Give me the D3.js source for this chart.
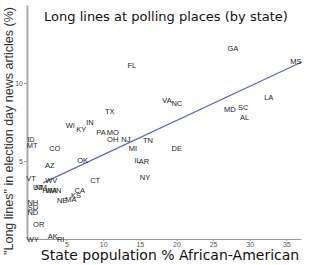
<!DOCTYPE html>
<html>
<head>
<meta charset="utf-8">
<script src="https://cdn.jsdelivr.net/npm/d3@7"></script>
<style>
body { margin: 0; background: #fff; }
svg { display: block; }
.state { font-family: "Liberation Sans", Arial, sans-serif; font-size: 7.5px; fill: #222; text-anchor: middle; }
.tick text { font-family: "Liberation Sans", Arial, sans-serif; font-size: 7px; fill: #555; }
</style>
</head>
<body>
<svg id="chart" width="310" height="265"></svg>
<script>
var states = ["GA","MS","FL","VA","NC","LA","MD","SC","AL","TX","WI","IN","KY","PA","MO","OH","NJ","MI","TN","DE",
	"ID","MT","CO","OK","AZ","IL","AR","NY","VT","WV","CT","UT","NM","HI","WA","MN","NE","MA","KS","CA",
	"NH","SD","ND","OR","WY","AK","RI"];
// % African-American
var pctBlack = [27.7,36.3,13.9,18.7,20.05,32.6,27.3,29.1,29.3,10.9,5.5,8.2,7.0,9.7,11.3,11.3,13.1,14.05,16.1,20.05,
	0.15,0.3,3.4,7.2,2.7,14.7,15.55,15.7,0.15,2.9,8.9,1.1,1.5,2.2,2.9,3.5,4.4,5.6,6.3,6.8,
	0.4,0.4,0.4,1.2,0.4,3.1,4.2];
// "long lines" share of election day articles (%)
var longLines = [12.2,11.4,11.1,8.85,8.7,9.1,8.27,8.4,7.8,8.2,7.3,7.5,7.0,6.8,6.8,6.35,6.35,5.83,6.3,5.77,
	6.35,6.0,5.83,5.06,4.68,5.06,4.94,3.97,3.85,3.72,3.72,3.33,3.27,3.08,3.08,3.08,2.44,2.56,2.82,3.08,
	2.31,1.99,1.73,0.9,0.0,0.19,0.0];
var fitX = [1.8, 37.1];
var fitY = [3.6, 11.35];
var xTicks = [5, 10, 15, 20, 25, 30, 35];
var yTicks = [5, 10];

var svg = d3.select("#chart");
var x = d3.scaleLinear().domain([-0.4, 37]).range([27, 301]);
var y = d3.scaleLinear().domain([0, 15]).range([239, 5]);

// axes
var xAxis = svg.append("g").attr("transform", "translate(0,239)")
	.call(d3.axisBottom(x).tickValues(xTicks).tickSize(2).tickPadding(1).tickSizeOuter(0));
xAxis.select(".domain").attr("stroke", "#999");
xAxis.selectAll(".tick line").attr("stroke", "#999");

var yAxis = svg.append("g").attr("transform", "translate(27,0)")
	.call(d3.axisLeft(y).tickValues(yTicks).tickSize(3).tickPadding(1).tickSizeOuter(0));
yAxis.select(".domain").attr("stroke", "#aaa").attr("stroke-width", 2);
yAxis.selectAll(".tick line").attr("stroke", "#999");

// fit line
var pts = fitX.map(function(v, i) { return [v, fitY[i]]; });
svg.append("path").datum(pts)
	.attr("d", d3.line().x(function(d) { return x(d[0]); }).y(function(d) { return y(d[1]); }))
	.attr("stroke", "#5a64c8").attr("stroke-width", 1.2).attr("fill", "none");

// state labels
svg.selectAll("text.state").data(states).enter().append("text")
	.attr("class", "state")
	.attr("x", function(d, i) { return x(pctBlack[i]); })
	.attr("y", function(d, i) { return y(longLines[i]) + 2.5; })
	.text(function(d) { return d; });

// titles
svg.append("text").attr("x", 166).attr("y", 21).attr("text-anchor", "middle")
	.style("font-family", "'DejaVu Sans', sans-serif").style("font-size", "13px").style("fill", "#111")
	.text("Long lines at polling places (by state)");
svg.append("text").attr("x", 170).attr("y", 260).attr("text-anchor", "middle")
	.style("font-family", "'DejaVu Sans', sans-serif").style("font-size", "14px").style("fill", "#111")
	.text("State population % African-American");
svg.append("text").attr("transform", "translate(13,131) rotate(-90)").attr("text-anchor", "middle")
	.style("font-family", "'Liberation Sans', Arial, sans-serif").style("font-size", "12.5px").style("fill", "#333")
	.text("\"Long lines\" in election day news articles (%)");
</script>
</body>
</html>
